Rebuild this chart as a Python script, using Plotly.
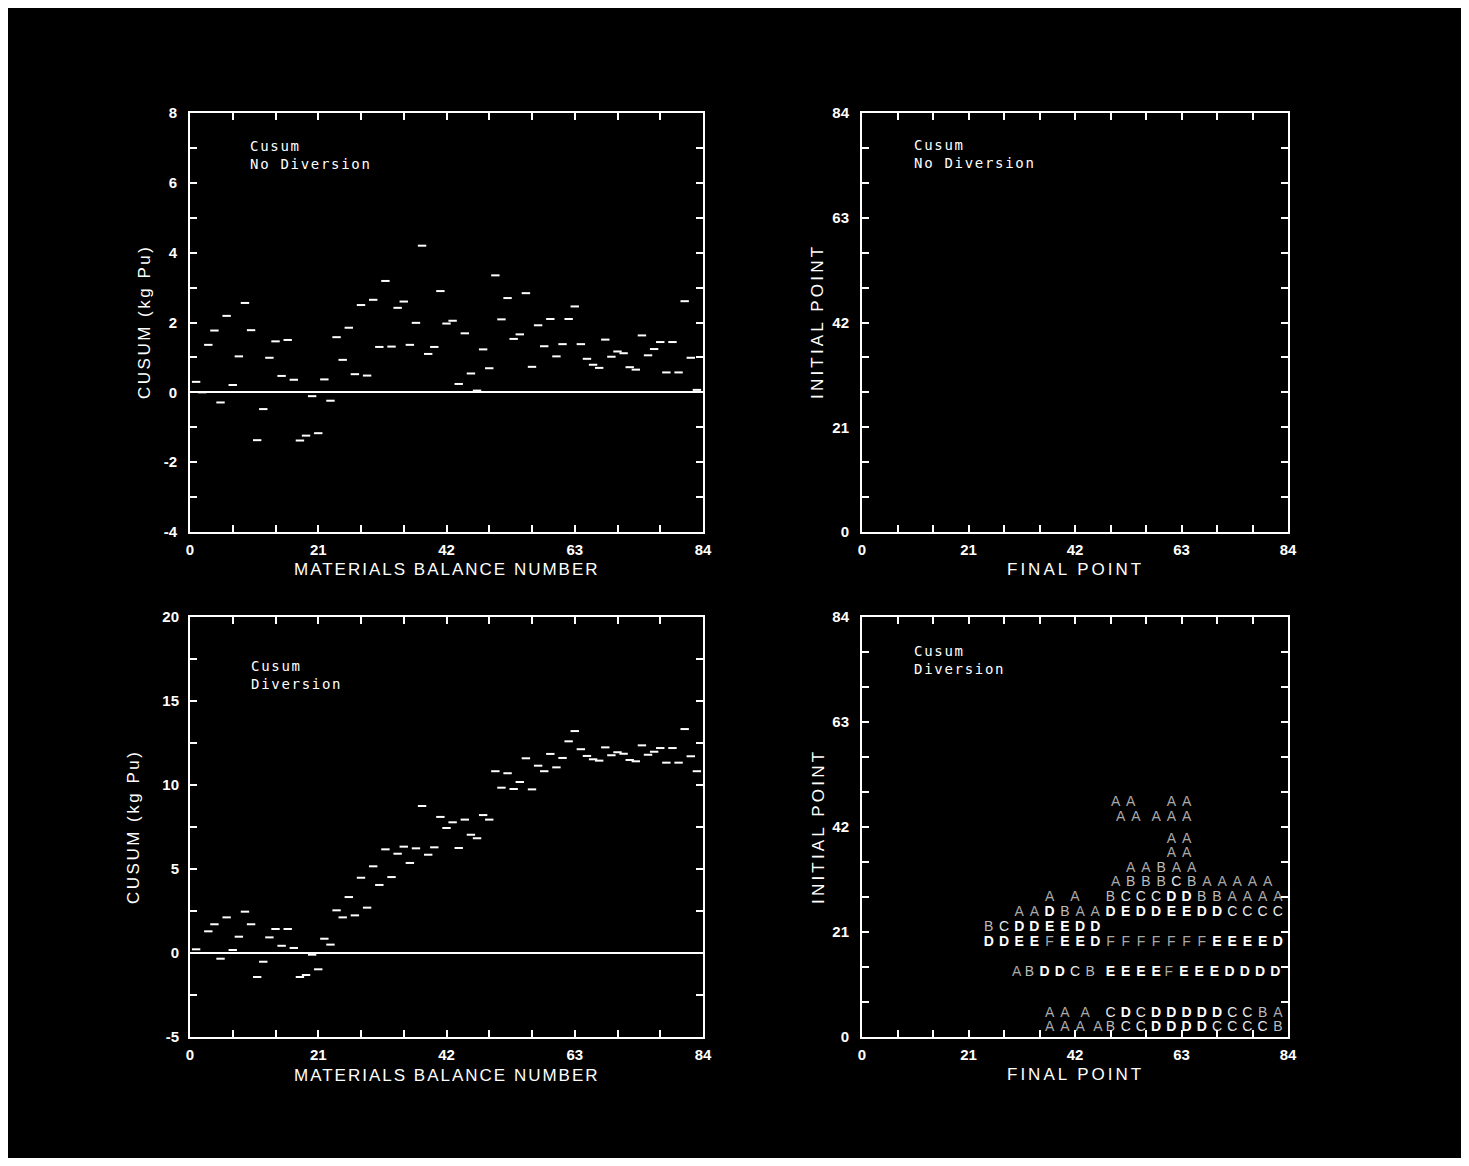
import plotly.graph_objects as go

# The page adds an 8px body margin; the figure fills the rest of the 1469x1166 window.
PAGE_MARGIN = 8
W, H = 1469 - 2 * PAGE_MARGIN, 1166 - 2 * PAGE_MARGIN

# ---------------- data ----------------
mb = list(range(1, 84))  # materials balance number 1..83

cusum_no_div = [
    0.30, 0.00, 1.36, 1.77, -0.29, 2.19, 0.21, 1.03, 2.56, 1.78,
    -1.37, -0.48, 0.99, 1.46, 0.47, 1.50, 0.36, -1.38, -1.24, -0.11,
    -1.17, 0.37, -0.24, 1.58, 0.93, 1.85, 0.52, 2.50, 0.48, 2.65,
    1.30, 3.19, 1.31, 2.42, 2.60, 1.36, 1.99, 4.20, 1.10, 1.30,
    2.90, 1.97, 2.05, 0.24, 1.69, 0.54, 0.05, 1.23, 0.69, 3.35,
    2.09, 2.70, 1.53, 1.66, 2.84, 0.73, 1.92, 1.32, 2.10, 1.03,
    1.38, 2.10, 2.46, 1.38, 0.96, 0.79, 0.70, 1.51, 1.02, 1.17,
    1.12, 0.72, 0.65, 1.63, 1.06, 1.24, 1.44, 0.57, 1.44, 0.57,
    2.61, 0.99, 0.07,
]

cusum_div = [
    0.22, 0.00, 1.29, 1.71, -0.34, 2.12, 0.18, 0.97, 2.46, 1.71,
    -1.43, -0.52, 0.93, 1.43, 0.43, 1.43, 0.30, -1.43, -1.31, -0.10,
    -0.97, 0.85, 0.50, 2.54, 2.12, 3.33, 2.24, 4.48, 2.70, 5.16,
    4.05, 6.17, 4.52, 5.91, 6.33, 5.36, 6.23, 8.75, 5.85, 6.29,
    8.10, 7.44, 7.78, 6.25, 7.94, 7.04, 6.83, 8.21, 7.94, 10.82,
    9.84, 10.70, 9.76, 10.18, 11.59, 9.74, 11.15, 10.82, 11.85, 11.05,
    11.61, 12.60, 13.21, 12.13, 11.73, 11.53, 11.45, 12.24, 11.77, 11.95,
    11.86, 11.49, 11.41, 12.36, 11.80, 11.98, 12.20, 11.33, 12.20, 11.33,
    13.33, 11.71, 10.82,
]

# alarm letters (bottom-right): one entry per printed row
alarm_initial = [47, 44, 39.5, 36.7, 33.7, 31, 28, 25, 22, 19, 13, 4.7, 2]
alarm_finals = [
    [50, 53, 61, 64],
    [51, 54, 58, 61, 64],
    [61, 64],
    [61, 64],
    [53, 56, 59, 62, 65],
    [50, 53, 56, 59, 62, 65, 68, 71, 74, 77, 80],
    [37, 42, 49, 52, 55, 58, 61, 64, 67, 70, 73, 76, 79, 82],
    [31, 34, 37, 40, 43, 46, 49, 52, 55, 58, 61, 64, 67, 70, 73, 76, 79, 82],
    [25, 28, 31, 34, 37, 40, 43, 46],
    [25, 28, 31, 34, 37, 40, 43, 46, 49, 52, 55, 58, 61, 64, 67, 70, 73, 76, 79, 82],
    [30.5, 33, 36, 39, 42, 45, 49, 52, 55, 58, 60.5, 63.5, 66.5, 69.5, 72.5, 75.5, 78.5, 81.5],
    [37, 40, 44, 49, 52, 55, 58, 61, 64, 67, 70, 73, 76, 79, 82],
    [37, 40, 43, 46.5, 49, 52, 55, 58, 61, 64, 67, 70, 73, 76, 79, 82],
]
alarm_letters = [
    "AAAA",
    "AAAAA",
    "AA",
    "AA",
    "AABAA",
    "ABBBCBAAAAA",
    "AABCCCDDBBAAAA",
    "AADBAADEDDEEDDCCCC",
    "BCDDEEDD",
    "DDEEFEEDFFFFFFFEEEED",
    "ABDDCBEEEEFEEEDDDD",
    "AAACDCDDDDDCCBA",
    "AAAABCCDDDDCCCCB",
]
letter_style = {
    "A": ("#a9a9a9", "normal"),
    "B": ("#bcbcbc", "normal"),
    "C": ("#e8e8e8", "normal"),
    "D": ("#ffffff", "bold"),
    "E": ("#ffffff", "bold"),
    "F": ("#a9a9a9", "normal"),
}

# ---------------- figure ----------------
fig = go.Figure()

dash = dict(symbol="line-ew", size=6, color="white", line=dict(width=2, color="white"))

fig.add_trace(go.Scatter(x=mb, y=cusum_no_div, mode="markers", marker=dash,
                         xaxis="x", yaxis="y", hoverinfo="skip"))
fig.add_trace(go.Scatter(x=[None], y=[None], mode="markers",
                         xaxis="x2", yaxis="y2", hoverinfo="skip"))
fig.add_trace(go.Scatter(x=mb, y=cusum_div, mode="markers", marker=dash,
                         xaxis="x3", yaxis="y3", hoverinfo="skip"))

groups = {}
for ini, fins, lets in zip(alarm_initial, alarm_finals, alarm_letters):
    for f, ch in zip(fins, lets):
        g = groups.setdefault(ch, ([], [], []))
        g[0].append(f)
        g[1].append(ini)
        g[2].append(ch)
for ch in sorted(groups):
    fx, iy, tx = groups[ch]
    col, wt = letter_style[ch]
    fig.add_trace(go.Scatter(x=fx, y=iy, mode="text", text=tx,
                             textfont=dict(family="Liberation Sans", size=14,
                                           color=col, weight=wt),
                             xaxis="x4", yaxis="y4", hoverinfo="skip"))


def px_to_x(px):
    return (px - PAGE_MARGIN) / W


def px_to_y(py):
    return 1 - (py - PAGE_MARGIN) / H


def dom_x(a, b):
    return [px_to_x(a), px_to_x(b)]


def dom_y(top, bottom):
    return [px_to_y(bottom), px_to_y(top)]


def axis(domain, anchor, rng, tick_step, label_step, standoff, zeroline=False):
    vals = []
    v = rng[0]
    while v <= rng[1] + 1e-9:
        vals.append(round(v, 4))
        v += tick_step
    texts = []
    for v in vals:
        r = v / label_step
        texts.append("%g" % v if abs(r - round(r)) < 1e-6 else "")
    return dict(domain=domain, anchor=anchor, range=rng, tickmode="array",
                tickvals=vals, ticktext=texts, ticks="inside", ticklen=7,
                tickwidth=2, tickcolor="white", showline=True, linecolor="white",
                linewidth=2, mirror="ticks", showgrid=False, zeroline=zeroline,
                zerolinecolor="white", zerolinewidth=2, ticklabelstandoff=standoff,
                automargin=False, fixedrange=True,
                tickfont=dict(family="Liberation Sans", size=15, color="white",
                              weight="bold"))


xl = dom_x(190, 703)
xr = dom_x(862, 1288)
yt = dom_y(113, 532)
yb = dom_y(617, 1037)

fig.update_layout(
    template="none",
    width=W, height=H, autosize=False,
    margin=dict(l=0, r=0, t=0, b=0, pad=0, autoexpand=False),
    paper_bgcolor="black",
    plot_bgcolor="black",
    showlegend=False,
    xaxis=axis(xl, "y", [0, 84], 7, 21, 3),
    yaxis=axis(yt, "x", [-4, 8], 1, 2, 8, zeroline=True),
    xaxis2=axis(xr, "y2", [0, 84], 7, 21, 3),
    yaxis2=axis(yt, "x2", [0, 84], 7, 21, 8),
    xaxis3=axis(xl, "y3", [0, 84], 7, 21, 3),
    yaxis3=axis(yb, "x3", [-5, 20], 2.5, 5, 6, zeroline=True),
    xaxis4=axis(xr, "y4", [0, 84], 7, 21, 3),
    yaxis4=axis(yb, "x4", [0, 84], 7, 21, 8),
)

TITLE_FONT = dict(family="Liberation Sans", size=17, color="white")


def spaced(txt, ls):
    return '<span style="letter-spacing:%spx">%s</span>' % (ls, txt)


ann = []


def add_text(txt, px, py, angle=0, font=TITLE_FONT, xanchor="center", yanchor="middle", align="center"):
    ann.append(dict(text=txt, x=px_to_x(px), y=px_to_y(py), xref="paper", yref="paper",
                    showarrow=False, textangle=angle, font=font, align=align,
                    xanchor=xanchor, yanchor=yanchor))


add_text(spaced("MATERIALS BALANCE NUMBER", 2), 447, 569)
add_text(spaced("MATERIALS BALANCE NUMBER", 2), 447, 1075)
add_text(spaced("FINAL POINT", 3), 1075, 569)
add_text(spaced("FINAL POINT", 3), 1075, 1074)
add_text(spaced("CUSUM (kg Pu)", 2.5), 145, 322, angle=-90)
add_text(spaced("CUSUM (kg Pu)", 2.5), 133, 827, angle=-90)
add_text(spaced("INITIAL POINT", 3.2), 818, 322, angle=-90)
add_text(spaced("INITIAL POINT", 3.2), 818, 827, angle=-90)

NOTE_FONT = dict(family="DejaVu Sans Mono", size=14, color="white")
for px, py, second in [(248, 155, "No Diversion"), (912, 154, "No Diversion"),
                       (249, 675, "Diversion"), (912, 660, "Diversion")]:
    add_text(spaced("Cusum", 1.7) + "<br>" + spaced(second, 1.7), px, py,
             font=NOTE_FONT, xanchor="left", align="left")

fig.update_layout(annotations=ann)

fig.write_html("out.html", config={"displayModeBar": False})
